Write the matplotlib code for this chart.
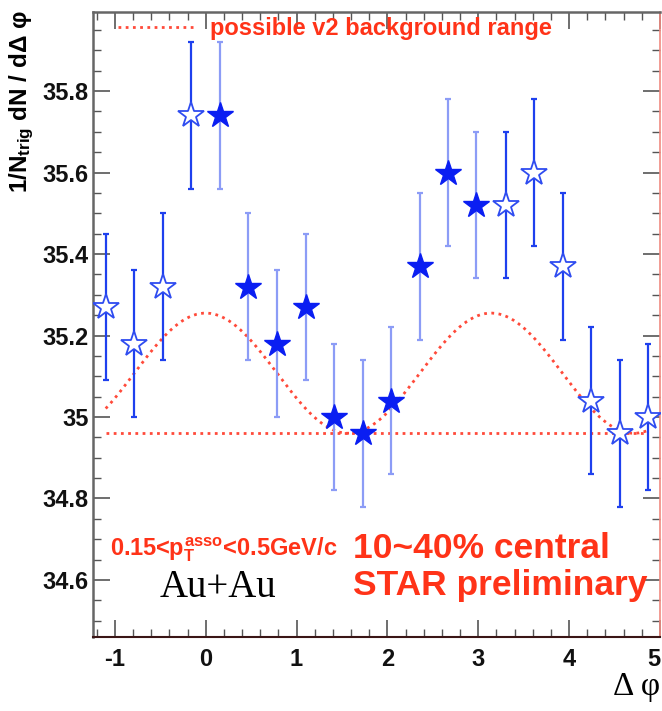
import numpy as np
import matplotlib
matplotlib.use("Agg")
import matplotlib.pyplot as plt
from matplotlib.ticker import MultipleLocator

plt.rcParams['font.family'] = ['Liberation Sans', 'DejaVu Sans']
plt.rcParams['mathtext.fontset'] = 'custom'
plt.rcParams['mathtext.rm'] = 'Liberation Sans:bold'
plt.rcParams['mathtext.it'] = 'Liberation Sans:bold'
plt.rcParams['mathtext.bf'] = 'Liberation Sans:bold'
plt.rcParams['mathtext.sf'] = 'Liberation Sans:bold'

# measured points (filled stars)
filled_x = [0.16, 0.47, 0.79, 1.10, 1.41, 1.73, 2.04, 2.36, 2.67, 2.98]
filled_y = [35.74, 35.32, 35.18, 35.27, 35.00, 34.96, 35.04, 35.37, 35.60, 35.52]
filled_err = [0.18, 0.18, 0.18, 0.18, 0.18, 0.18, 0.18, 0.18, 0.18, 0.18]

# reflected points (open stars)
open_x = [-1.10, -0.79, -0.47, -0.16, 3.30, 3.61, 3.93, 4.24, 4.56, 4.87]
open_y = [35.27, 35.18, 35.32, 35.74, 35.52, 35.60, 35.37, 35.04, 34.96, 35.00]
open_err = [0.18, 0.18, 0.18, 0.18, 0.18, 0.18, 0.18, 0.18, 0.18, 0.18]

# v2 background band
bkg_level = 34.96
bkg_peak = 35.255
bkg_range = (-1.10, 4.87)

RED = '#ff3318'
LINE_RED = '#ff4a3a'

fig = plt.figure(figsize=(6.62, 7.11), dpi=100)
ax = fig.add_axes([93/662, 1-637/711, 567/662, 625/711])

# background lines
xs = np.linspace(bkg_range[0], bkg_range[1], 300)
curve = bkg_level + (bkg_peak - bkg_level) * (1 + np.cos(2 * xs)) / 2
ax.plot(xs, curve, color=LINE_RED, lw=2, ls=(0, (1, 1.6)), zorder=2,
        label='possible v2 background range')
ax.plot(bkg_range, [bkg_level, bkg_level], color=LINE_RED, lw=2, ls=(0, (1, 1.6)), zorder=2)

# error bars
ax.errorbar(filled_x, filled_y, yerr=filled_err, fmt='none', ecolor='#8c9cf6',
            elinewidth=1.6, capsize=2.5, capthick=1.6, zorder=3)
ax.errorbar(open_x, open_y, yerr=open_err, fmt='none', ecolor='#1e40ee',
            elinewidth=1.6, capsize=2.5, capthick=1.6, zorder=3)

# markers
ax.plot(filled_x, filled_y, ls='none', marker='*', ms=19, color='#0a1ef2',
        mec='#0a1ef2', zorder=4)
ax.plot(open_x, open_y, ls='none', marker='*', ms=19, mfc='white',
        mec='#2f4cf0', mew=1.3, zorder=4)

ax.set_xlim(-1.24, 5.0)
ax.set_ylim(34.46, 35.994)

ax.xaxis.set_major_locator(MultipleLocator(1))
ax.xaxis.set_minor_locator(MultipleLocator(0.2))
ax.yaxis.set_major_locator(MultipleLocator(0.2))
ax.yaxis.set_minor_locator(MultipleLocator(0.05))
ax.set_yticks([34.6, 34.8, 35.0, 35.2, 35.4, 35.6, 35.8])
ax.set_yticklabels(['34.6', '34.8', '35', '35.2', '35.4', '35.6', '35.8'])
ax.set_xticks([-1, 0, 1, 2, 3, 4, 5])
ax.set_xticklabels(['-1', '0', '1', '2', '3', '4', '5'])

ax.tick_params(which='both', direction='in', top=True, right=True, color='#555555')
ax.tick_params(which='major', length=12, width=1.2)
ax.tick_params(which='minor', length=6, width=1.0)
ax.tick_params(axis='x', which='major', pad=8, labelsize=17)
ax.tick_params(axis='y', which='major', pad=3, labelsize=17)
for lab in ax.get_xticklabels() + ax.get_yticklabels():
    lab.set_fontweight('bold')
    lab.set_color('#111111')
# last x label sits at the figure edge, keep it inside
ax.get_xticklabels()[-1].set_horizontalalignment('right')

for side in ['left', 'top']:
    ax.spines[side].set_color('#666666')
    ax.spines[side].set_linewidth(1.8)
ax.spines['bottom'].set_color('#3a1515')
ax.spines['bottom'].set_linewidth(1.5)
ax.spines['right'].set_color('#f08a80')
ax.spines['right'].set_linewidth(1.2)

leg = ax.legend(loc='upper left', bbox_to_anchor=(0.044, 0.992), frameon=False,
                borderaxespad=0, borderpad=0, handlelength=3.2, handletextpad=0.7,
                prop={'weight': 'bold', 'size': 17})
for t in leg.get_texts():
    t.set_color(RED)

# annotations
ax.text(0.030, 0.131, r'0.15<$p_{T}^{asso}$<0.5GeV/c', transform=ax.transAxes,
        color=RED, fontsize=17, fontweight='bold', va='baseline', ha='left')
ax.text(0.118, 0.064, 'Au+Au', transform=ax.transAxes, family='Liberation Serif',
        fontsize=28, color='black', va='baseline', ha='left')
ax.text(0.4586, 0.1264, '10~40% central', transform=ax.transAxes, color=RED,
        fontsize=25.5, fontweight='bold', va='baseline', ha='left')
ax.text(0.4586, 0.0672, 'STAR preliminary', transform=ax.transAxes, color=RED,
        fontsize=25.5, fontweight='bold', va='baseline', ha='left')

fig.text(660/662, 1-687/711, 'Δ φ', family='Liberation Serif', fontsize=24,
         ha='right', va='center')
fig.text(22/662, 1-10/711, r'1/N$_{trig}$ dN / dΔ φ', rotation=90,
         fontsize=17.5, fontweight='bold', ha='center', va='top')

fig.savefig('out.png', dpi=100)
